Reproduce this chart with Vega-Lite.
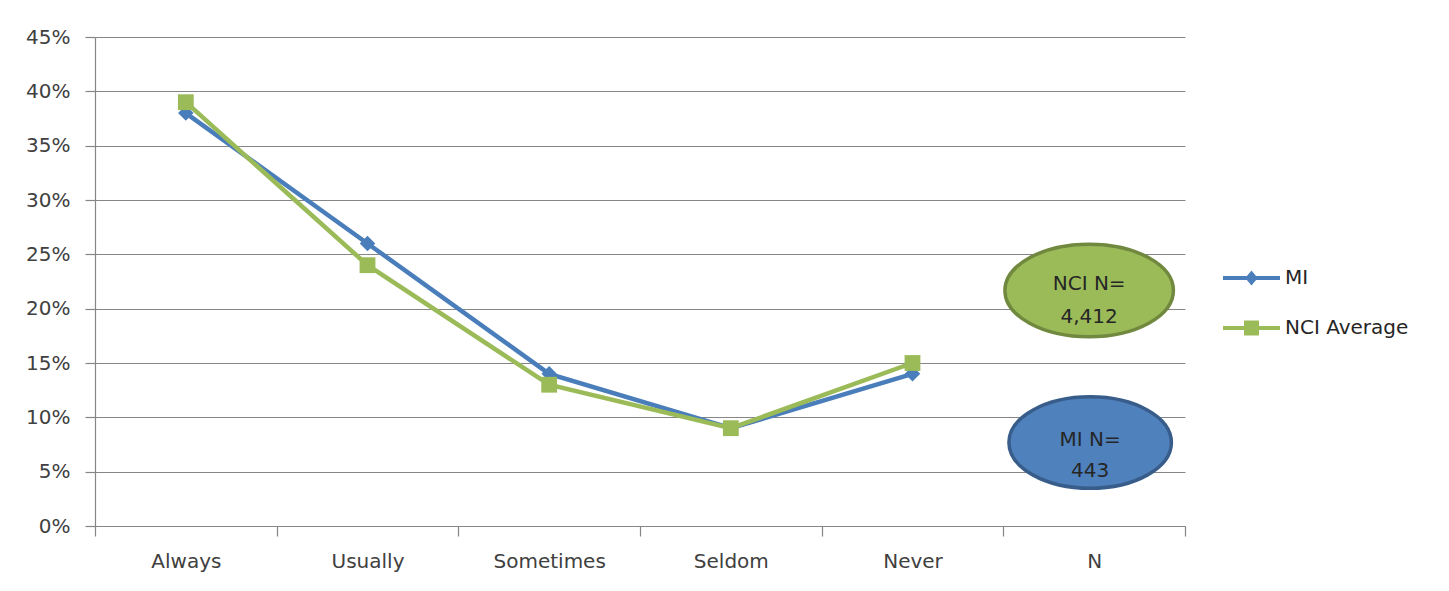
{
  "$schema": "https://vega.github.io/schema/vega-lite/v6.json",
  "width": 1090,
  "height": 489,
  "autosize": {"type": "none"},
  "padding": {"left": 95, "top": 37, "right": 264, "bottom": 65},
  "background": "white",
  "config": {
    "view": {"stroke": null},
    "font": "DejaVu Sans",
    "axisY": {
      "values": [0, 0.05, 0.1, 0.15, 0.2, 0.25, 0.3, 0.35, 0.4, 0.45],
      "format": ".0%",
      "grid": true,
      "gridColor": "#868686",
      "gridWidth": 1.2,
      "domainColor": "#868686",
      "domainWidth": 1.2,
      "tickColor": "#868686",
      "tickWidth": 1.2,
      "tickSize": 10,
      "labelPadding": 15,
      "labelFontSize": 20,
      "labelColor": "#404040",
      "title": null
    },
    "axisX": {
      "labelAngle": 0,
      "tickBand": "extent",
      "tickSize": 10,
      "labelPadding": 15,
      "labelFontSize": 20,
      "labelColor": "#404040",
      "domainColor": "#868686",
      "domainWidth": 1.2,
      "tickColor": "#868686",
      "tickWidth": 1.2,
      "grid": false,
      "title": null
    }
  },
  "datasets": {
    "series": [
      {"series": "MI", "cat": "Always", "value": 0.38},
      {"series": "MI", "cat": "Usually", "value": 0.26},
      {"series": "MI", "cat": "Sometimes", "value": 0.14},
      {"series": "MI", "cat": "Seldom", "value": 0.09},
      {"series": "MI", "cat": "Never", "value": 0.14},
      {"series": "NCI Average", "cat": "Always", "value": 0.39},
      {"series": "NCI Average", "cat": "Usually", "value": 0.24},
      {"series": "NCI Average", "cat": "Sometimes", "value": 0.13},
      {"series": "NCI Average", "cat": "Seldom", "value": 0.09},
      {"series": "NCI Average", "cat": "Never", "value": 0.15}
    ],
    "notes": [
      {"group": "NCI", "cat": "N", "value": 0.2167, "label": "NCI N=\n4,412"},
      {"group": "MI", "cat": "N", "value": 0.0768, "label": "MI N=\n443"}
    ]
  },
  "encoding": {
    "x": {
      "field": "cat",
      "type": "nominal",
      "sort": null,
      "scale": {
        "type": "band",
        "domain": ["Always", "Usually", "Sometimes", "Seldom", "Never", "N"],
        "paddingInner": 0,
        "paddingOuter": 0
      }
    },
    "y": {
      "field": "value",
      "type": "quantitative",
      "scale": {"domain": [0, 0.45], "nice": false}
    }
  },
  "layer": [
    {
      "data": {"name": "series"},
      "mark": {"type": "line", "strokeWidth": 4.5},
      "encoding": {
        "color": {
          "field": "series",
          "type": "nominal",
          "scale": {"domain": ["MI", "NCI Average"], "range": ["#4a7ebb", "#9bbb59"]},
          "legend": {
            "orient": "none",
            "legendX": 1131.5,
            "legendY": 216,
            "title": null,
            "padding": 0,
            "rowPadding": 15,
            "symbolSize": 2500,
            "labelFontSize": 20,
            "labelOffset": 8.5,
            "labelColor": "#262626",
            "encode": {
              "symbols": {
                "update": {
                  "shape": {"signal": "datum.value === 'MI' ? 'M-1.14,-0.08L1.14,-0.08L1.14,0.08L-1.14,0.08Z M0,-0.3L0.25,0L0,0.3L-0.25,0Z' : 'M-1.14,-0.08L1.14,-0.08L1.14,0.08L-1.14,0.08Z M-0.3,-0.3L0.3,-0.3L0.3,0.3L-0.3,0.3Z'"},
                  "fill": {"scale": "color", "field": "value"},
                  "strokeWidth": {"value": 0},
                  "opacity": {"value": 1}
                }
              }
            }
          }
        }
      }
    },
    {
      "data": {"name": "series"},
      "transform": [{"filter": "datum.series === 'MI'"}],
      "mark": {"type": "point", "filled": true, "shape": "diamond", "size": 240, "color": "#4a7ebb", "opacity": 1}
    },
    {
      "data": {"name": "series"},
      "transform": [{"filter": "datum.series === 'NCI Average'"}],
      "mark": {"type": "point", "filled": true, "shape": "square", "size": 250, "color": "#9bbb59", "opacity": 1}
    },
    {
      "data": {"name": "notes"},
      "transform": [{"filter": "datum.group === 'NCI'"}],
      "mark": {
        "type": "point",
        "filled": true,
        "shape": "M-1,0A1,0.549 0 1,1 1,0A1,0.549 0 1,1 -1,0Z",
        "size": 28392,
        "color": "#9bbb59",
        "stroke": "#71893f",
        "strokeWidth": 3.5,
        "opacity": 1,
        "xOffset": -5
      }
    },
    {
      "data": {"name": "notes"},
      "transform": [{"filter": "datum.group === 'MI'"}],
      "mark": {
        "type": "point",
        "filled": true,
        "shape": "M-1,0A1,0.563 0 1,1 1,0A1,0.563 0 1,1 -1,0Z",
        "size": 26406,
        "color": "#4f81bd",
        "stroke": "#385d8a",
        "strokeWidth": 3.5,
        "opacity": 1,
        "xOffset": -4
      }
    },
    {
      "data": {"name": "notes"},
      "transform": [{"filter": "datum.group === 'NCI'"}],
      "mark": {
        "type": "text",
        "fontSize": 20,
        "lineBreak": "\n",
        "lineHeight": 33,
        "dy": -6.5,
        "dx": -5,
        "align": "center",
        "baseline": "middle",
        "color": "#262626"
      },
      "encoding": {"text": {"field": "label"}}
    },
    {
      "data": {"name": "notes"},
      "transform": [{"filter": "datum.group === 'MI'"}],
      "mark": {
        "type": "text",
        "fontSize": 20,
        "lineBreak": "\n",
        "lineHeight": 31,
        "dy": -2.5,
        "dx": -4,
        "align": "center",
        "baseline": "middle",
        "color": "#262626"
      },
      "encoding": {"text": {"field": "label"}}
    }
  ]
}
